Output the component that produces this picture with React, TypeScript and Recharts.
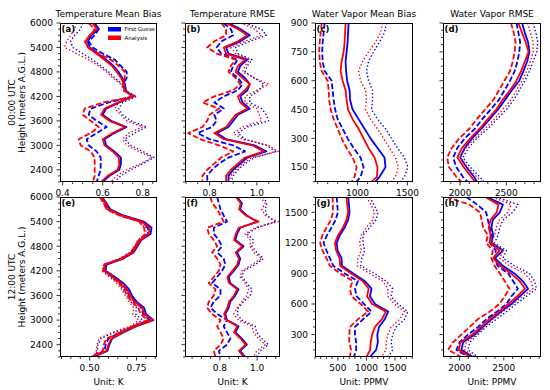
import React from 'react';
import { LineChart, Line, XAxis, YAxis } from 'recharts';

const FONT = '"DejaVu Sans", Verdana, sans-serif';
const BLUE = '#0000ff';
const RED = '#ff0000';

// heights (meters A.G.L.), top to bottom
const tempHeights = [6000, 5850, 5700, 5550, 5400, 5250, 5100, 4950, 4800, 4650, 4500, 4350, 4200, 4050, 3900, 3750, 3600, 3450, 3300, 3150, 3000, 2850, 2700, 2550, 2400, 2250, 2100];
const wvHeights00 = [900, 850, 800, 750, 700, 650, 600, 550, 500, 450, 400, 350, 300, 250, 200, 150, 100, 75];
const wvHeights12 = [1650, 1575, 1500, 1425, 1350, 1275, 1200, 1125, 1050, 975, 900, 825, 750, 675, 600, 525, 450, 375, 300, 225, 150, 80];

// (a) temperature mean bias, 00 UTC
const aFgMid = [0.559, 0.581, 0.543, 0.526, 0.535, 0.576, 0.617, 0.653, 0.679, 0.699, 0.711, 0.716, 0.745, 0.683, 0.617, 0.600, 0.642, 0.719, 0.658, 0.609, 0.617, 0.658, 0.691, 0.691, 0.683, 0.633, 0.600];
const aAnMid = [0.550, 0.571, 0.535, 0.515, 0.526, 0.568, 0.609, 0.646, 0.671, 0.692, 0.707, 0.708, 0.752, 0.675, 0.609, 0.592, 0.633, 0.711, 0.650, 0.600, 0.609, 0.650, 0.680, 0.683, 0.675, 0.625, 0.592];
const aFgLow = [0.55, 0.58, 0.56, 0.53, 0.55, 0.60, 0.66, 0.69, 0.72, 0.72, 0.70, 0.71, 0.75, 0.63, 0.54, 0.53, 0.57, 0.62, 0.57, 0.52, 0.53, 0.57, 0.59, 0.59, 0.59, 0.58, 0.57];
const aAnLow = [0.53, 0.56, 0.54, 0.51, 0.53, 0.58, 0.64, 0.68, 0.71, 0.71, 0.70, 0.70, 0.76, 0.60, 0.51, 0.50, 0.54, 0.58, 0.54, 0.48, 0.49, 0.54, 0.56, 0.56, 0.56, 0.56, 0.55];
const aFgHigh = [0.50, 0.49, 0.46, 0.44, 0.45, 0.50, 0.55, 0.59, 0.63, 0.66, 0.70, 0.71, 0.77, 0.70, 0.68, 0.70, 0.74, 0.82, 0.76, 0.71, 0.74, 0.80, 0.855, 0.80, 0.74, 0.69, 0.66];
const aAnHigh = [0.47, 0.46, 0.44, 0.42, 0.41, 0.47, 0.53, 0.58, 0.62, 0.65, 0.69, 0.71, 0.76, 0.68, 0.66, 0.69, 0.72, 0.80, 0.73, 0.70, 0.72, 0.78, 0.845, 0.79, 0.72, 0.67, 0.64];

// (b) temperature RMSE, 00 UTC
const bFgMid = [0.88, 0.93, 0.97, 0.93, 0.87, 0.88, 0.96, 0.93, 0.92, 0.95, 0.97, 0.96, 0.93, 0.94, 0.97, 0.92, 0.90, 0.88, 0.83, 0.87, 0.99, 1.04, 0.96, 0.93, 0.90, 0.88, 0.88];
const bAnMid = [0.87, 0.92, 0.96, 0.92, 0.86, 0.87, 0.95, 0.92, 0.91, 0.94, 0.97, 0.95, 0.92, 0.93, 0.96, 0.91, 0.89, 0.87, 0.82, 0.86, 0.98, 1.03, 0.95, 0.92, 0.89, 0.87, 0.87];
const bFgLow = [0.86, 0.89, 0.90, 0.85, 0.83, 0.85, 0.92, 0.90, 0.89, 0.92, 0.94, 0.92, 0.86, 0.82, 0.86, 0.82, 0.83, 0.81, 0.75, 0.80, 0.90, 0.95, 0.88, 0.84, 0.81, 0.79, 0.79];
const bAnLow = [0.85, 0.87, 0.87, 0.82, 0.79, 0.83, 0.91, 0.89, 0.88, 0.91, 0.93, 0.90, 0.82, 0.77, 0.84, 0.80, 0.79, 0.77, 0.71, 0.76, 0.84, 0.90, 0.85, 0.82, 0.79, 0.77, 0.77];
const bFgHigh = [0.95, 1.02, 1.04, 0.97, 0.91, 0.92, 0.98, 0.96, 0.95, 0.99, 1.03, 1.01, 0.97, 0.97, 1.02, 1.04, 1.05, 0.96, 0.92, 0.95, 1.04, 1.08, 0.99, 0.95, 0.92, 0.90, 0.89];
const bAnHigh = [0.93, 0.99, 1.02, 0.95, 0.89, 0.91, 0.97, 0.95, 0.94, 0.99, 1.05, 1.00, 0.95, 0.95, 1.00, 1.01, 1.02, 0.94, 0.90, 0.94, 1.05, 1.09, 0.98, 0.94, 0.91, 0.89, 0.88];

// (c) water vapor mean bias, 00 UTC
const cFgMid = [910, 905, 900, 890, 880, 885, 895, 920, 925, 950, 1010, 1070, 1130, 1200, 1270, 1280, 1220, 1180];
const cAnMid = [880, 875, 870, 860, 840, 830, 850, 880, 890, 905, 950, 1010, 1060, 1110, 1170, 1200, 1195, 1140];
const cFgLow = [670, 660, 650, 645, 650, 670, 740, 750, 760, 775, 800, 850, 900, 960, 1030, 1060, 1030, 990];
const cAnLow = [640, 630, 620, 615, 620, 640, 700, 710, 715, 730, 760, 800, 840, 890, 950, 990, 970, 940];
const cFgHigh = [1290, 1270, 1220, 1160, 1110, 1090, 1110, 1150, 1150, 1140, 1200, 1280, 1340, 1400, 1470, 1505, 1470, 1430];
const cAnHigh = [1250, 1230, 1180, 1110, 1050, 1010, 1030, 1080, 1090, 1080, 1130, 1200, 1260, 1320, 1380, 1410, 1380, 1340];

// (d) water vapor RMSE, 00 UTC
const dFgMid = [2670, 2700, 2735, 2750, 2725, 2685, 2640, 2560, 2485, 2410, 2320, 2230, 2130, 2050, 2000, 2070, 2150, 2180];
const dAnMid = [2630, 2670, 2710, 2740, 2700, 2660, 2610, 2540, 2460, 2390, 2300, 2210, 2110, 2020, 1970, 2040, 2120, 2160];
const dFgLow = [2610, 2630, 2650, 2640, 2620, 2590, 2540, 2480, 2420, 2330, 2240, 2160, 2050, 1970, 1925, 1960, 2030, 2080];
const dAnLow = [2550, 2580, 2600, 2590, 2570, 2540, 2480, 2420, 2360, 2270, 2180, 2100, 1990, 1910, 1860, 1880, 1960, 2010];
const dFgHigh = [2790, 2820, 2840, 2830, 2790, 2750, 2700, 2640, 2580, 2500, 2400, 2300, 2180, 2090, 2030, 2110, 2210, 2260];
const dAnHigh = [2730, 2760, 2790, 2790, 2760, 2720, 2670, 2610, 2550, 2460, 2370, 2270, 2160, 2060, 2000, 2080, 2180, 2230];

// (e) temperature mean bias, 12 UTC
const eFgMid = [0.565, 0.59, 0.61, 0.68, 0.79, 0.83, 0.825, 0.775, 0.755, 0.735, 0.68, 0.59, 0.585, 0.635, 0.68, 0.71, 0.725, 0.75, 0.79, 0.80, 0.84, 0.75, 0.68, 0.62, 0.605, 0.595, 0.52];
const eAnMid = [0.56, 0.585, 0.60, 0.67, 0.78, 0.82, 0.815, 0.77, 0.75, 0.73, 0.675, 0.58, 0.58, 0.625, 0.67, 0.70, 0.715, 0.74, 0.78, 0.79, 0.835, 0.745, 0.675, 0.615, 0.60, 0.59, 0.515];
const eFgLow = [0.56, 0.58, 0.60, 0.67, 0.78, 0.81, 0.81, 0.77, 0.745, 0.725, 0.67, 0.58, 0.58, 0.625, 0.665, 0.695, 0.71, 0.74, 0.775, 0.785, 0.82, 0.735, 0.665, 0.60, 0.585, 0.58, 0.51];
const eAnLow = [0.555, 0.575, 0.59, 0.66, 0.765, 0.79, 0.795, 0.765, 0.74, 0.72, 0.665, 0.575, 0.575, 0.62, 0.655, 0.685, 0.70, 0.725, 0.76, 0.77, 0.81, 0.725, 0.66, 0.59, 0.575, 0.57, 0.505];
const eFgHigh = [0.555, 0.585, 0.60, 0.665, 0.77, 0.815, 0.81, 0.76, 0.745, 0.72, 0.665, 0.585, 0.57, 0.615, 0.655, 0.68, 0.70, 0.72, 0.75, 0.745, 0.78, 0.73, 0.63, 0.56, 0.545, 0.54, 0.53];
const eAnHigh = [0.55, 0.575, 0.59, 0.655, 0.76, 0.80, 0.80, 0.755, 0.74, 0.715, 0.66, 0.575, 0.565, 0.605, 0.645, 0.67, 0.69, 0.71, 0.735, 0.73, 0.76, 0.72, 0.62, 0.55, 0.54, 0.535, 0.525];

// (f) temperature RMSE, 12 UTC
const fFgMid = [0.892, 0.918, 0.909, 0.945, 1.000, 0.909, 0.892, 0.883, 0.927, 0.892, 0.909, 0.900, 0.874, 0.847, 0.856, 0.900, 0.883, 0.856, 0.847, 0.829, 0.838, 0.900, 0.883, 0.918, 0.945, 0.909, 0.936];
const fAnMid = [0.885, 0.912, 0.903, 0.938, 1.007, 0.902, 0.885, 0.876, 0.920, 0.885, 0.902, 0.893, 0.867, 0.840, 0.849, 0.893, 0.876, 0.849, 0.840, 0.822, 0.835, 0.893, 0.876, 0.911, 0.938, 0.902, 0.929];
const fFgLow = [0.785, 0.794, 0.803, 0.820, 0.838, 0.767, 0.767, 0.794, 0.811, 0.785, 0.820, 0.829, 0.811, 0.785, 0.758, 0.803, 0.803, 0.767, 0.749, 0.785, 0.838, 0.820, 0.838, 0.856, 0.838, 0.794, 0.803];
const fAnLow = [0.749, 0.758, 0.785, 0.803, 0.820, 0.731, 0.740, 0.767, 0.785, 0.758, 0.785, 0.803, 0.794, 0.767, 0.740, 0.776, 0.767, 0.740, 0.731, 0.758, 0.803, 0.785, 0.803, 0.820, 0.803, 0.767, 0.776];
const fFgHigh = [1.034, 1.052, 1.043, 1.052, 1.096, 0.998, 0.945, 0.981, 0.972, 0.998, 1.034, 0.989, 0.927, 0.918, 0.945, 0.972, 0.963, 0.927, 0.900, 0.892, 0.918, 0.989, 0.998, 1.025, 1.061, 1.016, 0.998];
const fAnHigh = [1.016, 1.043, 1.025, 1.043, 1.114, 0.989, 0.936, 0.963, 0.963, 0.981, 1.025, 0.972, 0.918, 0.909, 0.936, 0.954, 0.945, 0.918, 0.892, 0.874, 0.900, 0.972, 0.981, 1.007, 1.043, 0.998, 0.981];

// (g) water vapor mean bias, 12 UTC
const gFgMid = [680, 695, 705, 680, 620, 535, 480, 495, 565, 570, 770, 970, 1090, 1060, 1150, 1380, 1320, 1220, 1190, 1200, 1170, 1060];
const gAnMid = [650, 665, 680, 650, 590, 505, 450, 470, 530, 540, 730, 935, 1040, 1010, 1100, 1340, 1270, 1150, 1100, 1075, 1065, 1000];
const gFgLow = [480, 490, 500, 460, 390, 310, 250, 300, 360, 420, 620, 850, 800, 830, 960, 1090, 940, 800, 800, 820, 820, 780];
const gAnLow = [410, 410, 415, 380, 300, 230, 190, 230, 300, 360, 540, 760, 710, 740, 900, 1030, 850, 710, 700, 700, 730, 710];
const gFgHigh = [1060, 1130, 1200, 1170, 1055, 940, 940, 970, 920, 900, 1140, 1345, 1460, 1430, 1550, 1725, 1665, 1520, 1460, 1430, 1460, 1375];
const gAnHigh = [1000, 1080, 1140, 1110, 1000, 910, 880, 910, 850, 840, 1055, 1285, 1375, 1375, 1490, 1665, 1580, 1430, 1375, 1345, 1345, 1260];

// (h) water vapor RMSE, 12 UTC
const hFgMid = [2310, 2490, 2455, 2375, 2360, 2380, 2360, 2490, 2400, 2490, 2620, 2715, 2775, 2680, 2585, 2470, 2360, 2265, 2170, 2040, 2020, 2150];
const hAnMid = [2290, 2440, 2420, 2350, 2330, 2350, 2340, 2450, 2380, 2460, 2580, 2680, 2740, 2650, 2550, 2440, 2330, 2240, 2140, 2010, 1990, 2120];
const hFgLow = [2075, 2200, 2300, 2320, 2340, 2360, 2340, 2410, 2395, 2430, 2550, 2605, 2660, 2585, 2530, 2420, 2300, 2210, 2095, 2000, 1965, 2100];
const hAnLow = [1850, 2110, 2230, 2250, 2265, 2320, 2300, 2375, 2360, 2395, 2455, 2510, 2565, 2510, 2450, 2340, 2205, 2115, 2020, 1925, 1870, 2020];
const hFgHigh = [2415, 2660, 2600, 2490, 2455, 2435, 2395, 2530, 2490, 2620, 2790, 2850, 2870, 2755, 2640, 2530, 2415, 2300, 2205, 2115, 2095, 2210];
const hAnHigh = [2370, 2585, 2545, 2450, 2415, 2395, 2360, 2490, 2455, 2565, 2735, 2810, 2830, 2715, 2605, 2490, 2375, 2280, 2190, 2075, 2055, 2170];

const titles = ['Temperature Mean Bias', 'Temperature RMSE', 'Water Vapor Mean Bias', 'Water Vapor RMSE'];
const units = ['Unit: K', 'Unit: K', 'Unit: PPMV', 'Unit: PPMV'];
const rowLabels = ['00:00 UTC', '12:00 UTC'];
const tempYTicks = [2400, 3000, 3600, 4200, 4800, 5400, 6000];
const wv00YTicks = [150, 300, 450, 600, 750, 900];
const wv12YTicks = [300, 600, 900, 1200, 1500];

const columns = [
  { left: 60, width: 97 },
  { left: 185, width: 95 },
  { left: 315, width: 98 },
  { left: 443, width: 98 },
];
const rows = [
  { top: 23, height: 159 },
  { top: 197, height: 160 },
];

const seriesKeys = ['fgMid', 'fgLow', 'fgHigh', 'anMid', 'anLow', 'anHigh'];
const seriesStyle: Record<string, { color: string; width: number; dash?: string }> = {
  fgMid: { color: BLUE, width: 1.8 },
  fgLow: { color: BLUE, width: 1.8, dash: '5.5 2.4' },
  fgHigh: { color: BLUE, width: 1.4, dash: '1.4 2.2' },
  anMid: { color: RED, width: 1.8 },
  anLow: { color: RED, width: 1.8, dash: '5.5 2.4' },
  anHigh: { color: RED, width: 1.4, dash: '1.4 2.2' },
};

const minorTicks = (lo: number, hi: number, step: number, majors: number[]) => {
  const out: number[] = [];
  const start = Math.ceil(lo / step - 1e-9);
  for (let k = start; k * step <= hi + 1e-9; k++) {
    const v = Math.round(k * step * 1e6) / 1e6;
    if (!majors.some((m) => Math.abs(m - v) < 1e-6)) out.push(v);
  }
  return out;
};

const panels = [
  { id: 'a', col: 0, row: 0, heights: tempHeights, s: [aFgMid, aFgLow, aFgHigh, aAnMid, aAnLow, aAnHigh], xDomain: [0.387, 0.871], xMajor: [0.4, 0.6, 0.8], xStep: 0.05, xDec: 1, yDomain: [2100, 6000], yMajor: tempYTicks, yStep: 150, yLabels: true },
  { id: 'b', col: 1, row: 0, heights: tempHeights, s: [bFgMid, bFgLow, bFgHigh, bAnMid, bAnLow, bAnHigh], xDomain: [0.696, 1.098], xMajor: [0.8, 1.0], xStep: 0.05, xDec: 1, yDomain: [2100, 6000], yMajor: tempYTicks, yStep: 150, yLabels: false },
  { id: 'c', col: 2, row: 0, heights: wvHeights00, s: [cFgMid, cFgLow, cFgHigh, cAnMid, cAnLow, cAnHigh], xDomain: [573, 1556], xMajor: [1000, 1500], xStep: 100, xDec: 0, yDomain: [73, 900], yMajor: wv00YTicks, yStep: 37.5, yLabels: true },
  { id: 'd', col: 3, row: 0, heights: wvHeights00, s: [dFgMid, dFgLow, dFgHigh, dAnMid, dAnLow, dAnHigh], xDomain: [1815, 2875], xMajor: [2000, 2500], xStep: 100, xDec: 0, yDomain: [73, 900], yMajor: wv00YTicks, yStep: 37.5, yLabels: false },
  { id: 'e', col: 0, row: 1, heights: tempHeights, s: [eFgMid, eFgLow, eFgHigh, eAnMid, eAnLow, eAnHigh], xDomain: [0.342, 0.859], xMajor: [0.5, 0.75], xStep: 0.05, xDec: 2, yDomain: [2100, 6000], yMajor: tempYTicks, yStep: 150, yLabels: true },
  { id: 'f', col: 1, row: 1, heights: tempHeights, s: [fFgMid, fFgLow, fFgHigh, fAnMid, fAnLow, fAnHigh], xDomain: [0.612, 1.123], xMajor: [0.8, 1.0], xStep: 0.05, xDec: 1, yDomain: [2100, 6000], yMajor: tempYTicks, yStep: 150, yLabels: false },
  { id: 'g', col: 2, row: 1, heights: wvHeights12, s: [gFgMid, gFgLow, gFgHigh, gAnMid, gAnLow, gAnHigh], xDomain: [100, 1815], xMajor: [500, 1000, 1500], xStep: 100, xDec: 0, yDomain: [80, 1650], yMajor: wv12YTicks, yStep: 75, yLabels: true },
  { id: 'h', col: 3, row: 1, heights: wvHeights12, s: [hFgMid, hFgLow, hFgHigh, hAnMid, hAnLow, hAnHigh], xDomain: [1812, 2921], xMajor: [2000, 2500], xStep: 100, xDec: 0, yDomain: [80, 1650], yMajor: wv12YTicks, yStep: 75, yLabels: false },
];

const isMajor = (majors: number[], v: number) => majors.some((m) => Math.abs(m - v) < 1e-6);

const XTick = (props: any) => {
  const { x, y, payload, majors, dec } = props;
  const v = payload.value;
  const major = isMajor(majors, v);
  return (
    <g>
      <line x1={x} x2={x} y1={y} y2={y + (major ? 3.5 : 2)} stroke="#000" strokeWidth={0.8} />
      {major && (
        <text x={x} y={y + 13.5} textAnchor="middle" fontSize={9} fontFamily={FONT} fill="#000">
          {v.toFixed(dec)}
        </text>
      )}
    </g>
  );
};

const YTick = (props: any) => {
  const { x, y, payload, majors, showLabel } = props;
  const v = payload.value;
  const major = isMajor(majors, v);
  return (
    <g>
      <line x1={x} x2={x - (major ? 3.5 : 2)} y1={y} y2={y} stroke="#000" strokeWidth={0.8} />
      {major && showLabel && (
        <text x={x - 7} y={y + 3.3} textAnchor="end" fontSize={9} fontFamily={FONT} fill="#000">
          {v}
        </text>
      )}
    </g>
  );
};

const YW = 40;
const MT = 6;
const MR = 6;
const XH = 24;

const Panel = ({ p }: { p: (typeof panels)[number] }) => {
  const col = columns[p.col];
  const row = rows[p.row];
  const data = p.heights.map((h, i) => {
    const rec: Record<string, number> = { h };
    seriesKeys.forEach((k, j) => (rec[k] = p.s[j][i]));
    return rec;
  });
  const xTicks = [...p.xMajor, ...minorTicks(p.xDomain[0], p.xDomain[1], p.xStep, p.xMajor)].sort((a, b) => a - b);
  const yTicks = [...p.yMajor, ...minorTicks(p.yDomain[0], p.yDomain[1], p.yStep, p.yMajor)].sort((a, b) => a - b);
  return (
    <div style={{ position: 'absolute', left: col.left - YW, top: row.top - MT }}>
      <LineChart
        width={YW + col.width + MR}
        height={MT + row.height + XH}
        data={data}
        layout="vertical"
        margin={{ top: MT, right: MR, bottom: 0, left: 0 }}
      >
        <XAxis
          type="number"
          domain={p.xDomain as [number, number]}
          allowDataOverflow
          ticks={xTicks}
          interval={0}
          height={XH}
          axisLine={false}
          tickLine={false}
          tickSize={0}
          tickMargin={0}
          tick={(tp: any) => <XTick {...tp} majors={p.xMajor} dec={p.xDec} />}
        />
        <YAxis
          type="number"
          dataKey="h"
          domain={p.yDomain as [number, number]}
          allowDataOverflow
          reversed
          ticks={yTicks}
          interval={0}
          width={YW}
          axisLine={false}
          tickLine={false}
          tickSize={0}
          tickMargin={0}
          tick={(tp: any) => <YTick {...tp} majors={p.yMajor} showLabel={p.yLabels} />}
        />
        {seriesKeys.map((k) => (
          <Line
            key={k}
            dataKey={k}
            type="linear"
            stroke={seriesStyle[k].color}
            strokeWidth={seriesStyle[k].width}
            strokeDasharray={seriesStyle[k].dash}
            strokeLinejoin="round"
            dot={false}
            activeDot={false}
            isAnimationActive={false}
          />
        ))}
      </LineChart>
      <div
        style={{
          position: 'absolute',
          left: YW,
          top: MT,
          width: col.width,
          height: row.height,
          border: '1px solid #000',
          boxSizing: 'border-box',
          pointerEvents: 'none',
        }}
      />
    </div>
  );
};

export default function App() {
  return (
    <div style={{ position: 'absolute', left: 0, top: 0, width: 550, height: 390, background: '#fff', overflow: 'hidden' }}>
      {panels.map((p) => (
        <Panel key={p.id} p={p} />
      ))}
      <svg width={550} height={390} style={{ position: 'absolute', left: 0, top: 0, pointerEvents: 'none' }} fontFamily={FONT}>
        {columns.map((c, i) => (
          <text key={'t' + i} x={c.left + c.width / 2} y={16.5} textAnchor="middle" fontSize={9} fill="#000">
            {titles[i]}
          </text>
        ))}
        {columns.map((c, i) => (
          <text key={'u' + i} x={c.left + c.width / 2} y={385} textAnchor="middle" fontSize={9} fill="#000">
            {units[i]}
          </text>
        ))}
        {rows.map((r, i) => {
          const cy = r.top + r.height / 2;
          return (
            <g key={'r' + i}>
              <text x={15} y={cy} transform={`rotate(-90 15 ${cy})`} textAnchor="middle" fontSize={9} fill="#000">
                {rowLabels[i]}
              </text>
              <text x={25} y={cy} transform={`rotate(-90 25 ${cy})`} textAnchor="middle" fontSize={9} fill="#000">
                Height (meters A.G.L.)
              </text>
            </g>
          );
        })}
        {panels.map((p) => (
          <text key={'l' + p.id} x={columns[p.col].left + 1.5} y={rows[p.row].top + 8.5} fontSize={8.5} fontWeight="bold" fill="#000">
            ({p.id})
          </text>
        ))}
        <rect x={108} y={27} width={13} height={4.5} fill={BLUE} />
        <text x={124.5} y={31.2} fontSize={5.5} fill="#000">First Guess</text>
        <rect x={108} y={35.5} width={13} height={4.5} fill={RED} />
        <text x={124.5} y={39.7} fontSize={5.5} fill="#000">Analysis</text>
      </svg>
    </div>
  );
}
